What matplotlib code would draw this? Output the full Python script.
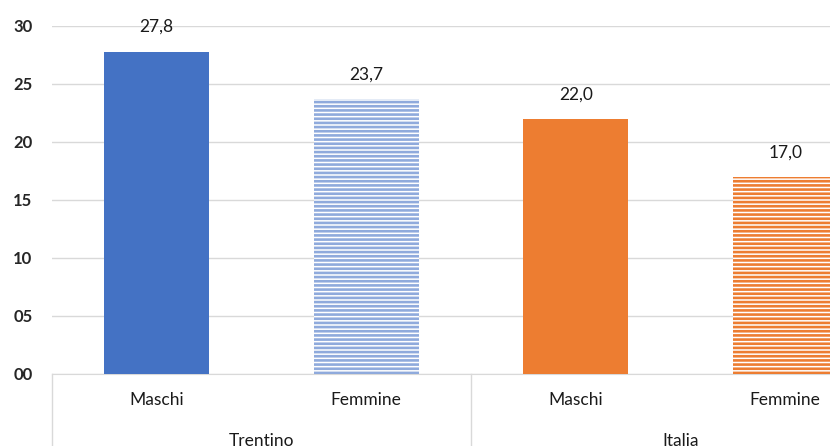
import matplotlib
matplotlib.use('Agg')
import matplotlib.pyplot as plt
from matplotlib.ticker import FuncFormatter

# valori per gruppo e sesso
groups = ['Trentino', 'Italia']
sexes = ['Maschi', 'Femmine']
trentino = [27.8, 23.7]
italia = [22.0, 17.0]

values = trentino + italia
labels = sexes + sexes
solid = ['#4472C4', None, '#ED7D31', None]
stripes = [None, '#8FAADC', None, '#ED7D31']

plt.rcParams['font.family'] = ['Lato', 'DejaVu Sans']
plt.rcParams['hatch.linewidth'] = 1.9

fig = plt.figure(figsize=(8.3, 4.46), dpi=100)
ax = fig.add_axes([52 / 830, 72 / 446, 838 / 830, 348 / 446])

x = list(range(len(values)))
for i, v in enumerate(values):
    if solid[i]:
        ax.bar(x[i], v, width=0.5, color=solid[i], zorder=3)
    else:
        ax.bar(x[i], v, width=0.5, facecolor='white', edgecolor=stripes[i],
               linewidth=0, hatch='----', zorder=3)
    ax.annotate(f'{v:.1f}'.replace('.', ','), (x[i], v), xytext=(0, 12),
                textcoords='offset points', ha='center', va='bottom',
                fontsize=12.5, color='#1a1a1a')

ax.set_xlim(-0.5, 3.5)
ax.set_ylim(0, 30)
ax.set_yticks(range(0, 31, 5))
ax.yaxis.set_major_formatter(FuncFormatter(lambda v, p: f'{int(v):02d}'))
ax.tick_params(axis='y', length=0, pad=14, labelsize=12, labelcolor='#262626')
for lbl in ax.get_yticklabels():
    lbl.set_fontweight('bold')
ax.grid(axis='y', color='#D9D9D9', linewidth=1, zorder=0)
for s in ['top', 'right', 'left']:
    ax.spines[s].set_visible(False)
ax.spines['bottom'].set_color('#D9D9D9')
ax.set_xticks([])

# etichette a due livelli sotto l'asse
for i, lab in enumerate(labels):
    ax.text(x[i], -2.2, lab, ha='center', va='center', fontsize=12.5,
            color='#1a1a1a', clip_on=False)
for g, name in enumerate(groups):
    ax.text(2 * g + 0.5, -5.75, name, ha='center', va='center', fontsize=12.5,
            color='#1a1a1a', clip_on=False)
for xb in [-0.5, 1.5, 3.5]:
    ax.plot([xb, xb], [0, -8], color='#D9D9D9', linewidth=1, clip_on=False)

fig.savefig('out.png', dpi=100)
